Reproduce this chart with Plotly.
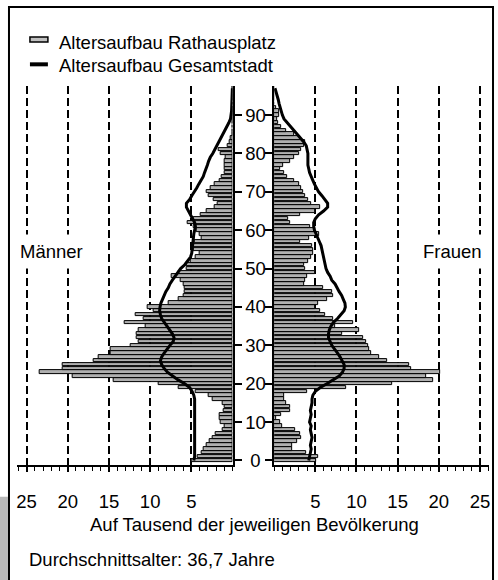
import plotly.graph_objects as go

# ---------------- data ----------------
ages = list(range(0, 98))

maenner_rathausplatz = [
    5.0, 4.2, 3.7, 3.5, 3.2, 2.8, 2.4, 2.0, 1.2, 1.0,
    1.4, 1.6, 1.6, 1.1, 1.0, 1.2, 2.4, 2.9, 4.5, 6.5,
    9.0, 14.4, 19.4, 23.4, 20.6, 20.6, 16.9, 16.2, 14.8, 14.8,
    12.4, 11.4, 11.6, 11.6, 11.4, 10.6, 13.1, 10.8, 11.8, 9.6,
    10.3, 7.7, 6.5, 5.9, 5.8, 5.8, 5.9, 6.3, 7.4, 6.5,
    5.6, 5.6, 5.1, 4.5, 4.0, 4.7, 4.8, 4.6, 3.7, 4.0,
    4.4, 4.7, 5.5, 4.7, 3.9, 3.2, 2.2, 1.8, 2.3, 2.9,
    3.2, 2.7, 2.2, 1.6, 1.3, 1.0, 0.9, 1.0, 1.0, 0.8,
    1.4, 1.7, 0.6, 0.4, 0.2, 0, 0, 0, 0, 0,
    0, 0, 0, 0, 0, 0, 0, 0,
]

frauen_rathausplatz = [
    5.1, 5.4, 3.9, 2.2, 2.2, 2.8, 3.3, 3.2, 2.5, 1.0,
    0.7, 0.3, 0.8, 1.9, 1.9, 1.5, 1.2, 1.2, 4.0, 8.8,
    14.3, 19.3, 18.5, 20.2, 16.6, 16.4, 13.7, 12.7, 11.8, 11.5,
    11.4, 11.2, 10.8, 8.2, 10.3, 7.4, 9.6, 7.2, 6.2, 5.6,
    5.0, 5.4, 6.4, 7.2, 7.0, 6.0, 3.6, 3.8, 4.0, 5.0,
    3.8, 3.6, 4.1, 4.5, 4.7, 4.7, 4.6, 3.2, 4.2, 5.5,
    5.0, 4.4, 1.9, 1.7, 3.2, 5.0, 5.6, 4.5, 4.1, 3.8,
    3.5, 3.3, 3.0, 2.4, 1.6, 1.2, 0.7, 1.1, 1.9, 2.4,
    3.0, 3.3, 3.7, 3.8, 3.1, 2.4, 1.4, 0.8, 0.5, 0.4,
    0.6, 0.6, 0.3, 0, 0, 0, 0, 0,
]

maenner_gesamtstadt = [
    4.7, 4.6, 4.6, 4.6, 4.55, 4.6, 4.6, 4.55, 4.6, 4.6,
    4.55, 4.6, 4.6, 4.55, 4.6, 4.6, 4.6, 4.7, 4.9, 5.2,
    5.8, 6.6, 7.3, 7.9, 8.3, 8.6, 8.75, 8.6, 8.3, 8.0,
    7.6, 7.2, 7.1, 7.3, 7.6, 8.0, 8.3, 8.6, 8.75, 8.85,
    8.8, 8.7, 8.5, 8.3, 8.1, 7.8, 7.6, 7.3, 7.0, 6.7,
    6.3, 5.8, 5.4, 5.1, 4.95, 4.9, 4.9, 4.85, 4.75, 4.7,
    4.6, 4.5, 4.6, 4.85, 5.0, 5.3, 5.6, 5.6, 5.2, 4.95,
    4.6, 4.35, 4.1, 3.8, 3.55, 3.4, 3.2, 3.05, 2.9, 2.7,
    2.4, 2.15, 1.85, 1.6, 1.35, 1.15, 0.95, 0.65, 0.45, 0.25,
    0.15, 0.12, 0.1, 0.08, 0.06, 0.05, 0.04, 0.02,
]

frauen_gesamtstadt = [
    4.2, 4.3, 4.4, 4.5, 4.4, 4.5, 4.6, 4.5, 4.4, 4.5,
    4.3, 4.4, 4.5, 4.4, 4.5, 4.6, 4.6, 4.7, 5.0, 5.6,
    6.4, 7.2, 7.9, 8.3, 8.5, 8.5, 8.3, 8.0, 7.7, 7.3,
    7.0, 6.8, 6.6, 6.6, 6.7, 6.9, 7.2, 7.7, 8.1, 8.5,
    8.65, 8.6, 8.4, 8.2, 7.9, 7.7, 7.4, 7.0, 6.8, 6.5,
    6.3, 6.2, 6.1, 6.0, 5.9, 5.8, 5.7, 5.5, 5.3, 5.1,
    4.9, 4.8, 4.8, 5.0, 5.4, 6.0, 6.5, 6.5, 6.2, 5.8,
    5.4, 5.1, 4.9, 4.7, 4.5, 4.3, 4.2, 4.1, 4.1, 4.1,
    4.1, 4.0, 3.9, 3.6, 3.2, 2.8, 2.4, 1.9, 1.5, 1.2,
    1.0, 0.85, 0.75, 0.6, 0.5, 0.35, 0.2, 0.1,
]

x_tick_vals = [5, 10, 15, 20, 25]
x_tick_text = ["5", "10", "15", "20", "25"]
age_tick_vals = [0, 10, 20, 30, 40, 50, 60, 70, 80, 90]
age_tick_text = ["\u00a00", "10", "20", "30", "40", "50", "60", "70", "80", "90"]

legend_bars = "Altersaufbau Rathausplatz"
legend_line = "Altersaufbau Gesamtstadt"
label_left = "Männer"
label_right = "Frauen"
axis_title = "Auf Tausend der jeweiligen Bevölkerung"
footer = "Durchschnittsalter: 36,7 Jahre"

# ---------------- styling ----------------
W, H = 498, 580
FONT = "Liberation Sans, Arial, sans-serif"
FS = 18.5
BAR_FILL = "#b0b0b0"


def px(x):
    return x / W


def py(y):
    return 1 - y / H


fig = go.Figure()

fig.add_trace(go.Bar(
    x=maenner_rathausplatz, y=ages, orientation="h", xaxis="x", yaxis="y",
    width=0.9, marker=dict(color=BAR_FILL, line=dict(color="black", width=1)),
    name=legend_bars, showlegend=False,
))
fig.add_trace(go.Bar(
    x=frauen_rathausplatz, y=ages, orientation="h", xaxis="x2", yaxis="y2",
    width=0.9, marker=dict(color=BAR_FILL, line=dict(color="black", width=1)),
    name=legend_bars, showlegend=False,
))
fig.add_trace(go.Scatter(
    x=maenner_gesamtstadt, y=ages, mode="lines", xaxis="x", yaxis="y",
    line=dict(color="black", width=3), name=legend_line, showlegend=False,
))
fig.add_trace(go.Scatter(
    x=frauen_gesamtstadt, y=ages, mode="lines", xaxis="x2", yaxis="y2",
    line=dict(color="black", width=3), name=legend_line, showlegend=False,
))

y_range = [-1.21, 97.55]
y_dom = [py(470), py(87)]
left_dom = [px(16.7), px(233)]
right_dom = [px(274.7), px(490)]

common_x = dict(
    tickvals=x_tick_vals, ticktext=x_tick_text,
    showline=True, linecolor="black", linewidth=2,
    ticks="outside", ticklen=5, tickwidth=1.5, tickcolor="black",
    minor=dict(dtick=1, tick0=0, ticks="outside", ticklen=4, tickwidth=1, tickcolor="black", showgrid=False),
    showgrid=True, gridcolor="black", gridwidth=1.5, griddash="8px,4px",
    zeroline=False, tickfont=dict(family=FONT, size=FS, color="black"),
    ticklabelstandoff=14,
)
cross_x = dict(
    tickvals=x_tick_vals, showticklabels=False, showline=False, showgrid=False,
    zeroline=False, ticks="inside", ticklen=5, tickwidth=1.5, tickcolor="black",
)

fig.update_layout(
    width=W, height=H,
    margin=dict(l=0, r=0, t=0, b=0),
    paper_bgcolor="white", plot_bgcolor="rgba(0,0,0,0)",
    showlegend=False, bargap=0,
    font=dict(family=FONT, size=FS, color="black"),
    xaxis=dict(domain=left_dom, range=[26.2, 0], anchor="y", **common_x),
    xaxis2=dict(domain=right_dom, range=[0, 26.1], anchor="y2", **common_x),
    xaxis3=dict(domain=left_dom, range=[26.2, 0], anchor="y", overlaying="x", **cross_x),
    xaxis4=dict(domain=right_dom, range=[0, 26.1], anchor="y2", overlaying="x2", **cross_x),
    yaxis=dict(
        domain=y_dom, range=y_range, anchor="x", side="right",
        tickvals=age_tick_vals, ticktext=age_tick_text,
        showline=True, linecolor="black", linewidth=2,
        ticks="outside", ticklen=7, tickwidth=1.5, tickcolor="black",
        showgrid=False, zeroline=False,
        tickfont=dict(family=FONT, size=FS, color="black"),
    ),
    yaxis2=dict(
        domain=y_dom, range=y_range, anchor="x2", side="left", matches="y",
        tickvals=age_tick_vals, showticklabels=False,
        showline=True, linecolor="black", linewidth=2,
        ticks="outside", ticklen=7, tickwidth=1.5, tickcolor="black",
        showgrid=False, zeroline=False,
    ),
)

shapes = [
    # outer frame
    dict(type="rect", xref="paper", yref="paper", x0=px(9), x1=px(494), y0=py(600), y1=py(7),
         line=dict(color="black", width=2), fillcolor="rgba(0,0,0,0)", layer="above"),
    # grey patch bottom-left
    dict(type="rect", xref="paper", yref="paper", x0=px(-2), x1=px(8), y0=py(600), y1=py(502),
         line=dict(width=0), fillcolor="#b8b8b8", layer="above"),
    # legend symbols
    dict(type="rect", xref="paper", yref="paper", x0=px(30), x1=px(48), y0=py(42.5), y1=py(37.5),
         line=dict(color="black", width=1.5), fillcolor="#c0c0c0"),
    dict(type="line", xref="paper", yref="paper", x0=px(30), x1=px(48), y0=py(65), y1=py(65),
         line=dict(color="black", width=4)),
]

ann_font = dict(family=FONT, size=FS, color="black")
annotations = [
    dict(text=legend_bars, x=px(57), y=py(43), xref="paper", yref="paper",
         xanchor="left", yanchor="middle", showarrow=False, font=ann_font),
    dict(text=legend_line, x=px(57), y=py(66), xref="paper", yref="paper",
         xanchor="left", yanchor="middle", showarrow=False, font=ann_font),
    dict(text=label_left, x=px(52), y=py(254), xref="paper", yref="paper",
         xanchor="center", yanchor="middle", showarrow=False, font=ann_font,
         bgcolor="white", borderpad=6),
    dict(text=label_right, x=px(453), y=py(254), xref="paper", yref="paper",
         xanchor="center", yanchor="middle", showarrow=False, font=ann_font,
         bgcolor="white", borderpad=6),
    dict(text=axis_title, x=px(255), y=py(530), xref="paper", yref="paper",
         xanchor="center", yanchor="middle", showarrow=False, font=ann_font),
    dict(text=footer, x=px(27), y=py(565), xref="paper", yref="paper",
         xanchor="left", yanchor="middle", showarrow=False, font=ann_font),
]

fig.update_layout(shapes=shapes, annotations=annotations)

fig.write_html(
    "out.html",
    config={"displayModeBar": False},
    post_script="document.body.style.margin='0';document.body.style.overflow='hidden';",
)
